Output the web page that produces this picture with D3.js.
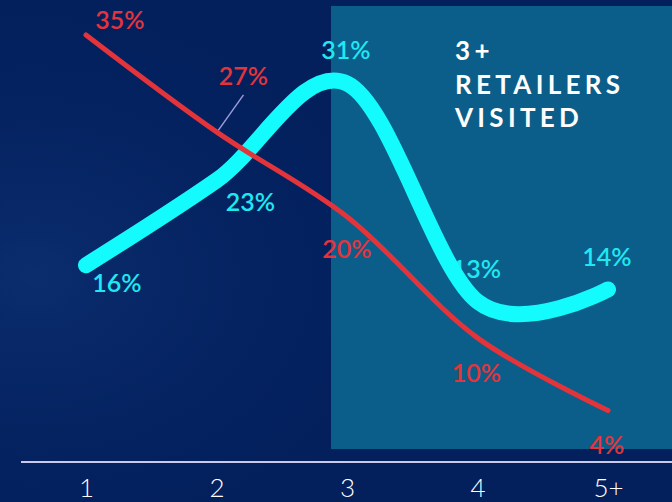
<!DOCTYPE html>
<html><head><meta charset="utf-8">
<script src="https://cdn.jsdelivr.net/npm/d3@7"></script>
<style>html,body{margin:0;padding:0;background:#04205e;overflow:hidden}</style>
</head><body>
<svg id="chart" width="672" height="502"></svg>
<script>
const categories = ["1", "2", "3", "4", "5+"];
const retailersVisitedLabel = ["3+", "RETAILERS", "VISITED"];
const highlightFrom = "3";
const seriesRed = [35, 27, 20, 10, 4];
const seriesCyan = [16, 23, 31, 13, 14];

// label layout offsets (dx, dy from the point) – styling only
const redLabelOffsets = [[34, -6], [27, -47], [0, 41], [-1, 44], [-1, 43]];
const cyanLabelOffsets = [[31, 27], [34, 31], [-1, -24], [-1, -24], [-1, -23]];

const W = 672, H = 502;
const svg = d3.select("#chart");
const x = d3.scalePoint().domain(categories).range([86, 608]);
const y = d3.scaleLinear().domain([0, 35]).range([459, 35]);

const defs = svg.append("defs");
const rg = defs.append("radialGradient").attr("id", "glow").attr("cx", "0.05").attr("cy", "0.55").attr("r", "0.6");
rg.append("stop").attr("offset", "0").attr("stop-color", "#10367a").attr("stop-opacity", 0.6);
rg.append("stop").attr("offset", "1").attr("stop-color", "#04205e").attr("stop-opacity", 0);

svg.append("rect").attr("width", W).attr("height", H).attr("fill", "#03205d");
svg.append("rect").attr("width", W).attr("height", H).attr("fill", "url(#glow)");

// highlight panel
const hx = x(highlightFrom) - 16;
svg.append("rect").attr("x", hx).attr("y", 6).attr("width", W - hx).attr("height", 443)
  .attr("fill", "#0a5e89");

// axis
const axis = svg.append("g").attr("transform", `translate(0,462)`)
  .call(d3.axisBottom(x).tickSize(0).tickPadding(10));
axis.select(".domain").attr("d", `M21,0H${W}`).attr("stroke", "#c9c9ea").attr("stroke-width", 2);
axis.selectAll("text").attr("fill", "#ffffff").attr("font-family", "Lato, sans-serif")
  .attr("font-weight", 300).attr("font-size", 26).attr("dy", "0.95em");

// title
const title = svg.append("text").attr("x", 455).attr("fill", "#ffffff")
  .attr("font-family", "Lato, sans-serif").attr("font-weight", 700).attr("font-size", 26)
  .attr("letter-spacing", 4.3);
retailersVisitedLabel.forEach((t, i) => {
  title.append("tspan").attr("x", 455).attr("y", 60 + i * 33.5).text(t);
});

const redPts = categories.map((c, i) => [x(c), y(seriesRed[i])]);
const cyanPts = categories.map((c, i) => [x(c), y(seriesCyan[i])]);
const redLine = d3.line().curve(d3.curveCatmullRom.alpha(0.5));
const cyanLine = d3.line().curve(d3.curveCatmullRom.alpha(0));

// leader line for 27%
svg.append("line")
  .attr("x1", redPts[1][0] + 27).attr("y1", redPts[1][1] - 37)
  .attr("x2", redPts[1][0]).attr("y2", redPts[1][1] + 1)
  .attr("stroke", "#9a9ad6").attr("stroke-width", 1.5);

const fontLab = {family: "Lato, sans-serif", size: 25, weight: 600};
function labels(vals, pts, offs, color) {
  svg.append("g").selectAll("text").data(vals).join("text")
    .attr("x", (d, i) => pts[i][0] + offs[i][0])
    .attr("y", (d, i) => pts[i][1] + offs[i][1])
    .attr("text-anchor", "middle")
    .attr("fill", color)
    .attr("font-family", fontLab.family).attr("font-size", fontLab.size).attr("font-weight", fontLab.weight)
    .text(d => d + "%");
}
labels(seriesCyan, cyanPts, cyanLabelOffsets, "#1fe8f2");
labels(seriesRed, redPts, redLabelOffsets, "#e4343b");

svg.append("path").attr("d", cyanLine(cyanPts)).attr("fill", "none")
  .attr("stroke", "#14fbfd").attr("stroke-width", 16).attr("stroke-linecap", "round").attr("stroke-linejoin", "round");
svg.append("path").attr("d", redLine(redPts)).attr("fill", "none")
  .attr("stroke", "#e4343b").attr("stroke-width", 5).attr("stroke-linecap", "round").attr("stroke-linejoin", "round");
</script>
</body></html>
